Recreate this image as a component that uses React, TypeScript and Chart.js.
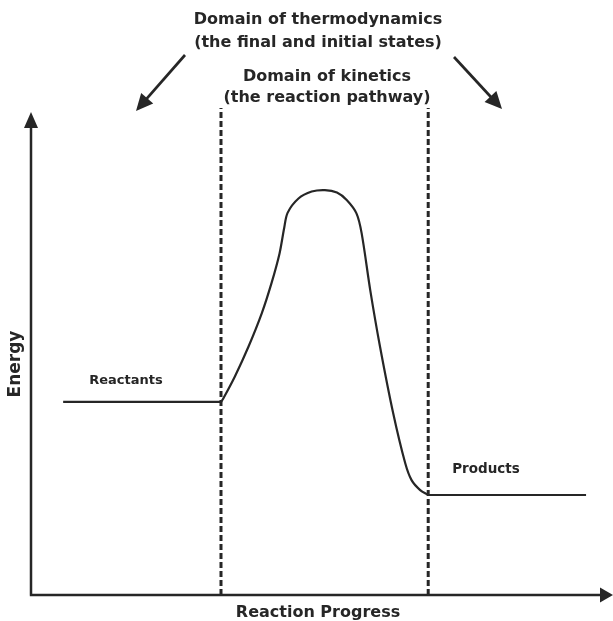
import React, { useEffect, useRef } from "react";
import { Chart, registerables } from "chart.js";

Chart.register(...registerables);

// Reaction progress (0-100) and energy (0-100), arbitrary units
const reactantsX = [5.6, 33.1];
const reactantsY = [39.0, 39.0];
const pathwayX = [33.1, 33.5, 35.5, 37.9, 40.2, 41.9, 43.3, 44.1, 44.7, 46.6, 48.9, 51.2, 53.3, 55.0, 56.7, 57.6, 59.1, 60.8, 63.1, 65.2, 66.3, 67.8, 69.2];
const pathwayY = [39.0, 39.7, 44.1, 50.2, 56.9, 63.0, 69.0, 74.1, 77.2, 80.1, 81.5, 81.8, 81.3, 79.8, 77.1, 73.1, 61.6, 50.2, 36.7, 26.6, 23.2, 21.2, 20.2];
const productsX = [69.2, 96.7];
const productsY = [20.2, 20.2];
const boundaryX = [33.1, 69.2];
const boundaryTop = 98.4;
const axisTop = 97.6;

const labels = {
  thermo1: "Domain of thermodynamics",
  thermo2: "(the final and initial states)",
  kin1: "Domain of kinetics",
  kin2: "(the reaction pathway)",
  reactants: "Reactants",
  products: "Products",
  yTitle: "Energy",
  xTitle: "Reaction Progress",
};

const INK = "#262626";
const FONT = "'DejaVu Sans', Verdana, sans-serif";

const pts = (xs: number[], ys: number[]) => xs.map((x, i) => ({ x, y: ys[i] }));

function arrowHead(ctx: CanvasRenderingContext2D, fx: number, fy: number, tx: number, ty: number, len: number, half: number) {
  const a = Math.atan2(ty - fy, tx - fx);
  const bx = tx - Math.cos(a) * len;
  const by = ty - Math.sin(a) * len;
  ctx.beginPath();
  ctx.moveTo(tx, ty);
  ctx.lineTo(bx + Math.sin(a) * half, by - Math.cos(a) * half);
  ctx.lineTo(bx - Math.sin(a) * half, by + Math.cos(a) * half);
  ctx.closePath();
  ctx.fill();
}

function arrow(ctx: CanvasRenderingContext2D, fx: number, fy: number, tx: number, ty: number, len: number, half: number) {
  const a = Math.atan2(ty - fy, tx - fx);
  ctx.beginPath();
  ctx.moveTo(fx, fy);
  ctx.lineTo(tx - Math.cos(a) * (len - 2), ty - Math.sin(a) * (len - 2));
  ctx.stroke();
  arrowHead(ctx, fx, fy, tx, ty, len, half);
}

const decorPlugin = {
  id: "decor",
  afterDraw(chart: any) {
    const ctx: CanvasRenderingContext2D = chart.ctx;
    const xs = chart.scales.x;
    const ys = chart.scales.y;
    const x0 = xs.getPixelForValue(0);
    const y0 = ys.getPixelForValue(0);
    const yTop = ys.getPixelForValue(axisTop);
    const xEnd = chart.width;
    ctx.save();
    ctx.strokeStyle = INK;
    ctx.fillStyle = INK;
    ctx.lineWidth = 2.5;
    ctx.lineCap = "butt";
    // axes
    ctx.beginPath();
    ctx.moveTo(x0, y0);
    ctx.lineTo(x0, yTop + 10);
    ctx.moveTo(x0 - 1.2, y0);
    ctx.lineTo(xEnd - 10, y0);
    ctx.stroke();
    arrowHead(ctx, x0, y0, x0, yTop, 16, 7);
    arrowHead(ctx, x0, y0, xEnd, y0, 13, 7.5);

    // diagonal arrows
    ctx.lineWidth = 2.7;
    arrow(ctx, 185, 55, 136, 111, 17, 8);
    arrow(ctx, 454, 57, 502, 109, 17, 8);

    // texts
    ctx.textAlign = "center";
    ctx.textBaseline = "middle";
    ctx.font = `bold 16px ${FONT}`;
    ctx.fillText(labels.thermo1, 318, 20);
    ctx.fillText(labels.thermo2, 318, 43);
    ctx.fillText(labels.kin1, 327, 77);
    ctx.fillText(labels.kin2, 327, 98);

    ctx.font = `bold 13px ${FONT}`;
    ctx.fillText(labels.reactants, 126, 381);
    ctx.font = `bold 13.5px ${FONT}`;
    ctx.fillText(labels.products, 486, 469);

    ctx.font = `bold 16px ${FONT}`;
    ctx.fillText(labels.xTitle, 318, 613);
    ctx.save();
    ctx.translate(16, 364);
    ctx.rotate(-Math.PI / 2);
    ctx.font = `bold 17px ${FONT}`;
    ctx.fillText(labels.yTitle, 0, 0);
    ctx.restore();
    ctx.restore();
  },
};

export default function App() {
  const ref = useRef<HTMLCanvasElement>(null);
  useEffect(() => {
    if (!ref.current) return;
    const solid = { borderColor: INK, borderWidth: 2.2, pointRadius: 0, fill: false };
    const dashed = { borderColor: INK, borderWidth: 3, borderDash: [6, 3], pointRadius: 0, fill: false };
    const chart = new Chart(ref.current, {
      type: "line",
      data: {
        datasets: [
          { label: labels.reactants, data: pts(reactantsX, reactantsY), ...solid },
          { label: "pathway", data: pts(pathwayX, pathwayY), ...solid, tension: 0.3 },
          { label: labels.products, data: pts(productsX, productsY), ...solid },
          { label: "b1", data: pts([boundaryX[0], boundaryX[0]], [0, boundaryTop]), ...dashed },
          { label: "b2", data: pts([boundaryX[1], boundaryX[1]], [0, boundaryTop]), ...dashed },
        ] as any,
      },
      options: {
        animation: false,
        responsive: false,
        maintainAspectRatio: false,
        layout: { padding: { left: 31, right: 8, top: 100, bottom: 26 } },
        plugins: { legend: { display: false }, tooltip: { enabled: false }, title: { display: false } },
        scales: {
          x: { type: "linear", min: 0, max: 100, display: false },
          y: { type: "linear", min: 0, max: 100, display: false },
        },
      },
      plugins: [decorPlugin],
    });
    return () => chart.destroy();
  }, []);
  return (
    <div style={{ position: "fixed", left: 0, top: 0, width: 613, height: 621, background: "#fff" }}>
      <canvas ref={ref} width={613} height={621} style={{ width: 613, height: 621, display: "block" }} />
    </div>
  );
}
